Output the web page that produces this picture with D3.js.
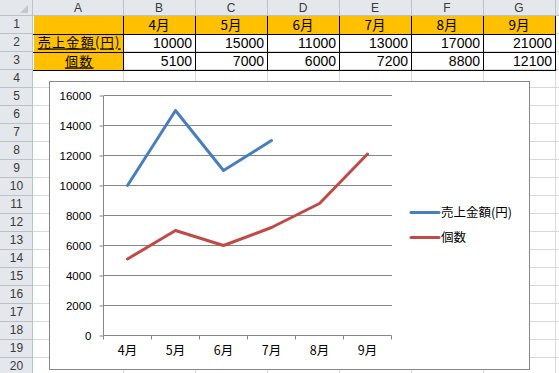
<!DOCTYPE html>
<html><head><meta charset="utf-8">
<script src="https://cdn.jsdelivr.net/npm/d3@7"></script>
<style>body{margin:0;background:#fff}svg{display:block}</style>
</head><body><svg id="c" width="559" height="373"></svg>
<script>
// ---- data ----
const columnLetters = ["A","B","C","D","E","F","G"];
const months = ["4月","5月","6月","7月","8月","9月"];
const seriesNames = ["売上金額(円)","個数"];
const sales = [10000,15000,11000,13000,17000,21000];
const counts = [5100,7000,6000,7200,8800,12100];
const yTicks = [0,2000,4000,6000,8000,10000,12000,14000,16000];
const rowNumbers = d3.range(1,21);

// ---- sheet layout ----
const W = 559, H = 373;
const headerH = 16, rowH = 18, rowHeadW = 33;
const colEdges = [33,123,195,267,339,411,483,555,627];
const rowTop = r => headerH + (r-1)*rowH;
const jp = "'Noto Sans CJK JP','Noto Sans',sans-serif";
const lat = "'Liberation Sans',Arial,sans-serif";
const svg = d3.select("#c");

svg.append("rect").attr("width",W).attr("height",H).attr("fill","#fff");

// sheet gridlines
const grid = svg.append("g").attr("stroke","#d9d9d9").attr("shape-rendering","crispEdges");
colEdges.slice(1).forEach(x=>grid.append("line").attr("x1",x+0.5).attr("x2",x+0.5).attr("y1",headerH).attr("y2",H));
rowNumbers.forEach(r=>grid.append("line").attr("x1",rowHeadW).attr("x2",W).attr("y1",rowTop(r)+rowH-0.5).attr("y2",rowTop(r)+rowH-0.5));

// table fills
const orange = "#FFC000";
svg.append("rect").attr("x",colEdges[0]+1).attr("y",rowTop(1)).attr("width",colEdges[7]-colEdges[0]-1).attr("height",rowH).attr("fill",orange);
svg.append("rect").attr("x",colEdges[0]+1).attr("y",rowTop(2)).attr("width",colEdges[1]-colEdges[0]-1).attr("height",rowH*2).attr("fill",orange);

// table borders
const tb = svg.append("g").attr("stroke","#000").attr("shape-rendering","crispEdges");
for (let c=1;c<=7;c++) tb.append("line").attr("x1",colEdges[c]+0.5).attr("x2",colEdges[c]+0.5).attr("y1",rowTop(1)).attr("y2",rowTop(4)+1);
for (let r=2;r<=4;r++) tb.append("line").attr("x1",colEdges[0]).attr("x2",colEdges[7]+1).attr("y1",rowTop(r)+0.5).attr("y2",rowTop(r)+0.5);

// table text
const tt = svg.append("g").attr("fill","#000");
months.forEach((m,i)=>tt.append("text").attr("font-family",jp).attr("font-size","13.5px")
  .attr("x",(colEdges[i+1]+colEdges[i+2])/2).attr("y",rowTop(1)+9).attr("dy","0.38em").attr("text-anchor","middle").text(m));
seriesNames.forEach((n,j)=>tt.append("text").attr("font-family",jp).attr("font-size","13px").attr("letter-spacing","1.3px")
  .attr("x",(colEdges[0]+colEdges[1])/2+1.2).attr("y",rowTop(2+j)+9+(j===0?-0.5:0.5)).attr("dy","0.38em")
  .attr("text-anchor","middle").attr("text-decoration","underline").text(n));
[sales,counts].forEach((arr,j)=>arr.forEach((v,i)=>tt.append("text").attr("font-family",lat).attr("font-size","14px")
  .attr("x",colEdges[i+2]-3).attr("y",rowTop(2+j)+9).attr("dy","0.36em").attr("text-anchor","end").text(v)));

// headers
const hdrFill = "#e4e7eb", hdrLine = "#bcc2ca";
svg.append("rect").attr("x",0).attr("y",0).attr("width",W).attr("height",headerH).attr("fill",hdrFill);
svg.append("rect").attr("x",0).attr("y",0).attr("width",rowHeadW).attr("height",H).attr("fill",hdrFill);
const hg = svg.append("g").attr("stroke",hdrLine).attr("shape-rendering","crispEdges");
hg.append("line").attr("x1",0).attr("x2",W).attr("y1",headerH-0.5).attr("y2",headerH-0.5);
hg.append("line").attr("x1",rowHeadW-0.5).attr("x2",rowHeadW-0.5).attr("y1",0).attr("y2",H);
colEdges.slice(1).forEach(x=>hg.append("line").attr("x1",x+0.5).attr("x2",x+0.5).attr("y1",0).attr("y2",headerH));
rowNumbers.forEach(r=>hg.append("line").attr("x1",0).attr("x2",rowHeadW).attr("y1",rowTop(r)+rowH-0.5).attr("y2",rowTop(r)+rowH-0.5));
svg.append("path").attr("d","M28,5 L28,13 L20,13 Z").attr("fill","#c4c8cd");
const ht = svg.append("g").attr("font-family",lat).attr("font-size","12px").attr("fill","#3a3a3a").attr("text-anchor","middle");
columnLetters.forEach((l,i)=>ht.append("text").attr("x",(colEdges[i]+colEdges[i+1])/2).attr("y",7.5).attr("dy","0.36em").text(l));
rowNumbers.forEach(r=>ht.append("text").attr("x",rowHeadW/2).attr("y",rowTop(r)+rowH/2-1).attr("dy","0.36em").text(r));

// ---- chart ----
const frame = {x:49.5,y:81.5,w:480,h:288};
svg.append("rect").attr("x",frame.x).attr("y",frame.y).attr("width",frame.w).attr("height",frame.h).attr("fill","#fff").attr("stroke","#868686");

const x = d3.scaleBand().domain(months).range([103.5,391.5]).paddingInner(0).paddingOuter(0);
const y = d3.scaleLinear().domain([0,16000]).range([335.5,95.5]);
const cx = m => x(m)+x.bandwidth()/2;

const gridG = svg.append("g").attr("shape-rendering","crispEdges");
gridG.selectAll("line").data(yTicks.slice(1)).join("line")
  .attr("x1",103.5).attr("x2",391.5).attr("y1",d=>y(d)).attr("y2",d=>y(d)).attr("stroke","#868686");

const yAxis = d3.axisLeft(y).tickValues(yTicks).tickSize(4).tickPadding(8).tickFormat(d3.format("d"));
const ya = svg.append("g").attr("transform","translate(103.5,0)").call(yAxis);
ya.select(".domain").attr("stroke","#868686").attr("d","M0,95.5V335.5");
ya.selectAll(".tick line").attr("stroke","#868686");
ya.selectAll("text").attr("font-family",lat).attr("font-size","11.5px").attr("fill","#000");

const xAxis = d3.axisBottom(x).tickSize(0).tickPadding(12);
const xa = svg.append("g").attr("transform","translate(0,335.5)").call(xAxis);
xa.select(".domain").attr("stroke","#868686").attr("d","M103.5,0H391.5");
xa.selectAll("text").attr("font-family",jp).attr("font-size","12.5px").attr("fill","#000").attr("dy","0.6em");
const edges = months.map(m=>x(m)).concat([391.5]);
xa.selectAll(".edge").data(edges).join("line").attr("class","edge")
  .attr("x1",d=>Math.round(d-0.5)+0.5).attr("x2",d=>Math.round(d-0.5)+0.5).attr("y1",0).attr("y2",4).attr("stroke","#868686");

const colors = ["#4A7EBB","#BE4B48"];
const yMax = 16000;
[sales,counts].forEach((arr,j)=>{
  const line = d3.line().defined(d=>d.v<=yMax).x(d=>cx(d.m)).y(d=>y(d.v));
  svg.append("path").datum(months.map((m,i)=>({m,v:arr[i]})))
    .attr("d",line).attr("fill","none").attr("stroke",colors[j]).attr("stroke-width",3)
    .attr("stroke-linejoin","round").attr("stroke-linecap","round");
});

// legend
const lg = svg.append("g");
seriesNames.forEach((n,j)=>{
  const ly = 212.5 + j*25;
  lg.append("line").attr("x1",411).attr("x2",439).attr("y1",ly).attr("y2",ly).attr("stroke",colors[j]).attr("stroke-width",3).attr("stroke-linecap","round");
  lg.append("text").attr("x",441).attr("y",ly).attr("dy","0.36em").attr("font-family",jp).attr("font-size","12.5px").attr("fill","#000").text(n);
});
</script></body></html>
